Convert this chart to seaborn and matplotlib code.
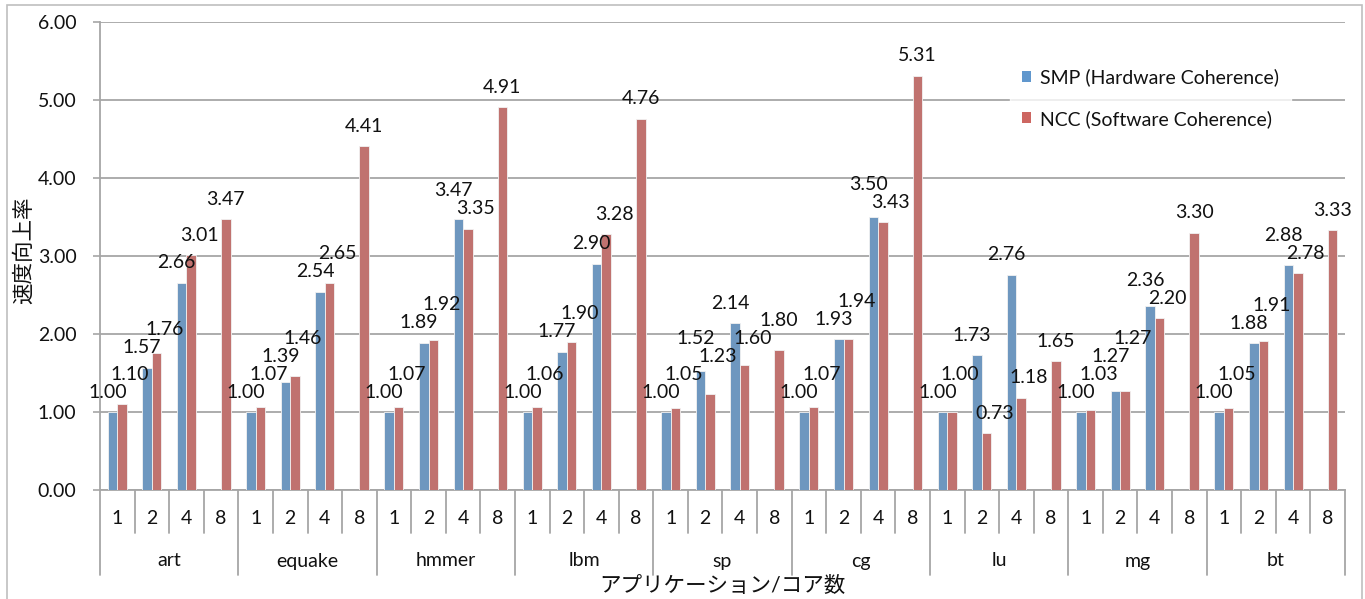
import numpy as np
import pandas as pd
import matplotlib
matplotlib.use("Agg")
import matplotlib.pyplot as plt
from matplotlib.patches import Patch, Rectangle
from matplotlib.lines import Line2D
import matplotlib.transforms as mtransforms
import seaborn as sns

# ---- data ----
apps = ["art", "equake", "hmmer", "lbm", "sp", "cg", "lu", "mg", "bt"]
cores = [1, 2, 4, 8]
smp_label = "SMP (Hardware Coherence)"
ncc_label = "NCC (Software Coherence)"
# speed-up per app for 1, 2, 4, 8 cores (SMP has no 8-core result)
smp_speedup = [
    [1.00, 1.57, 2.66, None],
    [1.00, 1.39, 2.54, None],
    [1.00, 1.89, 3.47, None],
    [1.00, 1.77, 2.90, None],
    [1.00, 1.52, 2.14, None],
    [1.00, 1.93, 3.50, None],
    [1.00, 1.73, 2.76, None],
    [1.00, 1.27, 2.36, None],
    [1.00, 1.88, 2.88, None],
]
ncc_speedup = [
    [1.10, 1.76, 3.01, 3.47],
    [1.07, 1.46, 2.65, 4.41],
    [1.07, 1.92, 3.35, 4.91],
    [1.06, 1.90, 3.28, 4.76],
    [1.05, 1.23, 1.60, 1.80],
    [1.07, 1.94, 3.43, 5.31],
    [1.00, 0.73, 1.18, 1.65],
    [1.03, 1.27, 2.20, 3.30],
    [1.05, 1.91, 2.78, 3.33],
]
y_ticks = [0, 1, 2, 3, 4, 5, 6]

# ---- long-format table ----
rows = []
for a, app in enumerate(apps):
    for c, n in enumerate(cores):
        cat = f"{app}-{n}"
        if smp_speedup[a][c] is not None:
            rows.append((cat, smp_label, smp_speedup[a][c]))
        rows.append((cat, ncc_label, ncc_speedup[a][c]))
df = pd.DataFrame(rows, columns=["cat", "series", "speedup"])
cat_order = [f"{app}-{n}" for app in apps for n in cores]

BLUE = "#6097CD"
RED = "#CD6661"
GRID = "#A6A6A6"
TXT = "#111111"
FS = 14

sns.set_theme(style="white")
plt.rcParams["font.family"] = ["Lato", "Noto Sans CJK JP", "DejaVu Sans"]

W, H = 1365, 599
fig = plt.figure(figsize=(W / 100, H / 100), dpi=100)
ax = fig.add_axes([100 / W, 1 - 490 / H, 1245 / W, 468 / H])

sns.barplot(data=df, x="cat", y="speedup", hue="series", order=cat_order,
            hue_order=[smp_label, ncc_label], palette=[BLUE, RED],
            width=0.55, gap=0, errorbar=None, ax=ax, legend=False,
            linewidth=0.6, edgecolor="#F2F2F2", zorder=3)

ax.set_xlim(-0.5, len(cat_order) - 0.5)
ax.set_ylim(0, 6)
ax.set_yticks(y_ticks)
ax.set_yticklabels([f"{v:.2f}" for v in y_ticks], fontsize=FS, color=TXT)
ax.yaxis.grid(True, color=GRID, linewidth=1.3, zorder=0)
ax.set_axisbelow(True)
ax.tick_params(axis="y", length=5, width=1.2, color=GRID, pad=12, left=True)
ax.set_xticks([])
ax.set_xlabel("")
ax.set_ylabel("")
for side in ["top", "right"]:
    ax.spines[side].set_visible(False)
for side in ["left", "bottom"]:
    ax.spines[side].set_color(GRID)
    ax.spines[side].set_linewidth(1.3)

# ---- value labels: placed in pixel space, stacked upward when they collide ----
px_per_unit = 468 / 6
px_per_cat = 1245 / len(cat_order)
base = 20          # gap between bar top and label centre
min_sep = 18       # vertical clearance between colliding labels
label_w = 37       # approximate label width

labels = []  # (bar, dx, is_ncc)
smp_bars = {int(round(b.get_x() + b.get_width() / 2)): b for b in ax.containers[0]
            if not np.isnan(b.get_height())}
ncc_bars = {int(round(b.get_x() + b.get_width() / 2)): b for b in ax.containers[1]
            if not np.isnan(b.get_height())}
for idx in range(len(cat_order)):
    group = []
    if idx in smp_bars:
        group.append((smp_bars[idx], -5))
    if idx in ncc_bars:
        group.append((ncc_bars[idx], 8 if idx in smp_bars else 0))
    # lower bar's label goes first so the taller bar's label stacks on top
    group.sort(key=lambda t: t[0].get_height())
    labels.extend(group)

placed = []  # (x_px, y_px)
for bar, dx in labels:
    h = bar.get_height()
    xc = bar.get_x() + bar.get_width() / 2
    x_px = xc * px_per_cat + dx
    y_px = h * px_per_unit + base
    moved = True
    while moved:
        moved = False
        for px, py in placed:
            if abs(px - x_px) < label_w and abs(py - y_px) < min_sep:
                y_px = py + min_sep
                moved = True
    placed.append((x_px, y_px))
    ax.annotate(f"{h:.2f}", (xc, h), xytext=(dx, y_px - h * px_per_unit),
                textcoords="offset pixels", ha="center", va="center",
                fontsize=FS, color=TXT, zorder=5, annotation_clip=False)

# ---- two-level category axis ----
trans = mtransforms.blended_transform_factory(ax.transData, fig.transFigure)
y0 = 1 - 490 / H
y_core = 1 - 533 / H
y_app = 1 - 575 / H
n_c = len(cores)
for i in range(len(cat_order) + 1):
    xb = i - 0.5
    bottom = y_app if i % n_c == 0 else y_core
    fig.add_artist(Line2D([xb, xb], [y0, bottom], transform=trans,
                          color=GRID, linewidth=1.3))
for i, cat in enumerate(cat_order):
    fig.text(i, 1 - 518 / H, str(cores[i % n_c]), transform=trans,
             ha="center", va="center", fontsize=FS, color=TXT)
for a, app in enumerate(apps):
    fig.text(a * n_c + (n_c - 1) / 2, 1 - 561 / H, app, transform=trans,
             ha="center", va="center", fontsize=FS, color=TXT)

fig.text((100 + 1345) / 2 / W, 1 - 586 / H, "アプリケーション/コア数",
         ha="center", va="center", fontsize=15.5, color=TXT)
fig.text(24 / W, 1 - 250 / H, "速度向上率", rotation=90,
         ha="center", va="center", fontsize=15.5, color=TXT)

# ---- legend ----
handles = [Patch(facecolor=BLUE, edgecolor="none", label=smp_label),
           Patch(facecolor=RED, edgecolor="none", label=ncc_label)]
leg = fig.legend(handles=handles, loc="upper left",
                 bbox_to_anchor=(1010 / W, 1 - 57 / H), frameon=True,
                 fontsize=FS, handlelength=0.5, handleheight=0.5,
                 handletextpad=0.45, labelspacing=1.2, borderpad=0.6,
                 borderaxespad=0)
leg.get_frame().set_facecolor("white")
leg.get_frame().set_edgecolor("white")
for t in leg.get_texts():
    t.set_color(TXT)

# ---- outer chart border ----
fig.add_artist(Rectangle((7 / W, -0.01), (1362 - 7) / W, 1.01 - 5 / H,
                         transform=fig.transFigure, fill=False,
                         edgecolor="#BFBFBF", linewidth=1.2))

fig.savefig("out.png", dpi=100)
